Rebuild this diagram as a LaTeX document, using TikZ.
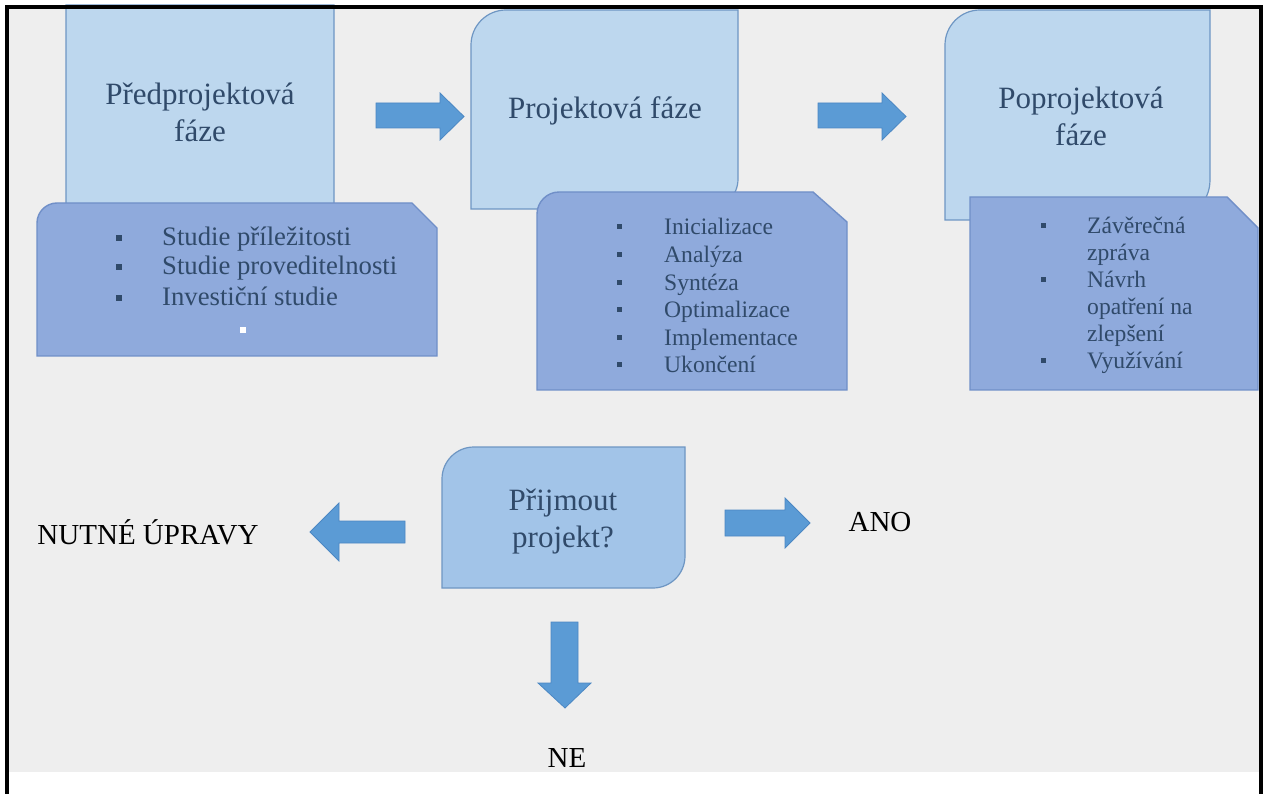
\documentclass[tikz,border=0pt]{standalone}
\usepackage{fontspec}
\setmainfont{Liberation Serif}
\definecolor{pagegray}{RGB}{238,238,238}
\definecolor{phasefill}{RGB}{189,215,238}
\definecolor{phaseedge}{RGB}{110,150,195}
\definecolor{listfill}{RGB}{143,170,220}
\definecolor{listedge}{RGB}{112,143,200}
\definecolor{askfill}{RGB}{162,196,232}
\definecolor{arrowfill}{RGB}{91,155,213}
\definecolor{arrowedge}{RGB}{75,135,195}
\definecolor{boxtext}{RGB}{48,74,106}
\begin{document}
\begin{tikzpicture}[x=1pt,y=-1pt,
  phase/.style={fill=phasefill,draw=phaseedge,line width=1.2pt},
  listbox/.style={fill=listfill,draw=listedge,line width=1.4pt},
  askbox/.style={fill=askfill,draw=phaseedge,line width=1.2pt},
  blockarrow/.style={fill=arrowfill,draw=arrowedge,line width=0.8pt},
  title/.style={inner sep=0pt,align=center,text=boxtext,font=\fontsize{31}{37}\selectfont},
  itemA/.style={inner sep=0pt,anchor=base west,text=boxtext,font=\fontsize{26.7}{30}\selectfont},
  itemB/.style={inner sep=0pt,anchor=base west,text=boxtext,font=\fontsize{23.6}{27}\selectfont},
  bulletA/.style={rectangle,inner sep=0pt,minimum size=6pt,fill=boxtext},
  bulletB/.style={rectangle,inner sep=0pt,minimum size=5pt,fill=boxtext},
  label/.style={inner sep=0pt,text=black,font=\fontsize{29}{34}\selectfont}]
\useasboundingbox (0,0) rectangle (1267,794);
\fill[white] (0,0) rectangle (1267,794);
\fill[pagegray] (5,5) rectangle (1263,772);

% phase boxes (round diagonal corners)
\draw[phase] (66,240) -- (66,5) -- (334,5) -- (334,210)
  .. controls (334,226.6) and (320.6,240) .. (304,240) -- cycle;
\draw[phase] (471,209) -- (471,45) .. controls (471,25.7) and (486.7,10) .. (506,10)
  -- (738,10) -- (738,179) .. controls (738,195.6) and (724.6,209) .. (708,209) -- cycle;
\draw[phase] (945,220) -- (945,45) .. controls (945,25.7) and (960.7,10) .. (980,10)
  -- (1210,10) -- (1210,180) .. controls (1210,202.1) and (1192.1,220) .. (1170,220) -- cycle;

% activity lists (snipped corner)
\draw[listbox] (37,356) -- (37,223) .. controls (37,212) and (46,203) .. (57,203)
  -- (412,203) -- (437,228) -- (437,356) -- cycle;
\draw[listbox] (537,390) -- (537,214) .. controls (537,202) and (547,192) .. (559,192)
  -- (813,192) -- (847,222) -- (847,390) -- cycle;
\draw[listbox] (970,390) -- (970,197) -- (1227,197) -- (1258,228) -- (1258,390) -- cycle;

% phase titles
\node[title] (pre) at (200,112) {Předprojektová\\fáze};
\node[title] (proj) at (605,111) {Projektová fáze};
\node[title] (post) at (1081,116) {Poprojektová\\fáze};

% pre-project list
\foreach \y/\t [count=\i] in {246/Studie příležitosti,275/Studie proveditelnosti,306/Investiční studie}{
  \node[bulletA] (pb\i) at (119,\y-8) {};
  \node[itemA] (pi\i) at (162,\y) {\t};
}
\node[rectangle,inner sep=0pt,minimum size=6pt,fill=white] (pblank) at (243,330) {};

% project list
\foreach \y/\t [count=\i] in {235/Inicializace,262.6/Analýza,290.2/Syntéza,317.8/Optimalizace,345.4/Implementace,373/Ukončení}{
  \node[bulletB] (jb\i) at (619,\y-8) {};
  \node[itemB] (ji\i) at (664,\y) {\t};
}

% post-project list
\node[bulletB] (qb1) at (1043,226) {};
\node[itemB] (qi1) at (1087,234) {Závěrečná};
\node[itemB] (qi2) at (1087,261) {zpráva};
\node[bulletB] (qb2) at (1043,280) {};
\node[itemB] (qi3) at (1087,288) {Návrh};
\node[itemB] (qi4) at (1087,315) {opatření na};
\node[itemB] (qi5) at (1087,342) {zlepšení};
\node[bulletB] (qb3) at (1043,361) {};
\node[itemB] (qi6) at (1087,369) {Využívání};

% arrows between phases
\draw[blockarrow] (376,103) -- (440,103) -- (440,93) -- (464,116.5) -- (440,140) -- (440,128) -- (376,128) -- cycle;
\draw[blockarrow] (818,103) -- (882,103) -- (882,93) -- (906,116.5) -- (882,140) -- (882,128) -- (818,128) -- cycle;

% decision
\draw[askbox] (442,588) -- (442,479) .. controls (442,461.3) and (456.3,447) .. (474,447)
  -- (685,447) -- (685,556) .. controls (685,573.7) and (670.7,588) .. (653,588) -- cycle;
\node[title] (ask) at (563,521.5) {Přijmout\\projekt?};

\draw[blockarrow] (405,521) -- (339,521) -- (339,503) -- (310,532) -- (339,561) -- (339,543) -- (405,543) -- cycle;
\draw[blockarrow] (725,510) -- (785,510) -- (785,498) -- (810,523) -- (785,548) -- (785,536) -- (725,536) -- cycle;
\draw[blockarrow] (551,622) -- (578,622) -- (578,683) -- (591,683) -- (565,708) -- (538,683) -- (551,683) -- cycle;

\node[label] (fix) at (148,532) {NUTNÉ ÚPRAVY};
\node[label] (yes) at (880,522) {ANO};
\node[label] (no) at (567,758) {NE};

% frame
\draw[black,line width=4pt] (7,794) -- (7,7) -- (1261,7) -- (1261,794);
\end{tikzpicture}
\end{document}
